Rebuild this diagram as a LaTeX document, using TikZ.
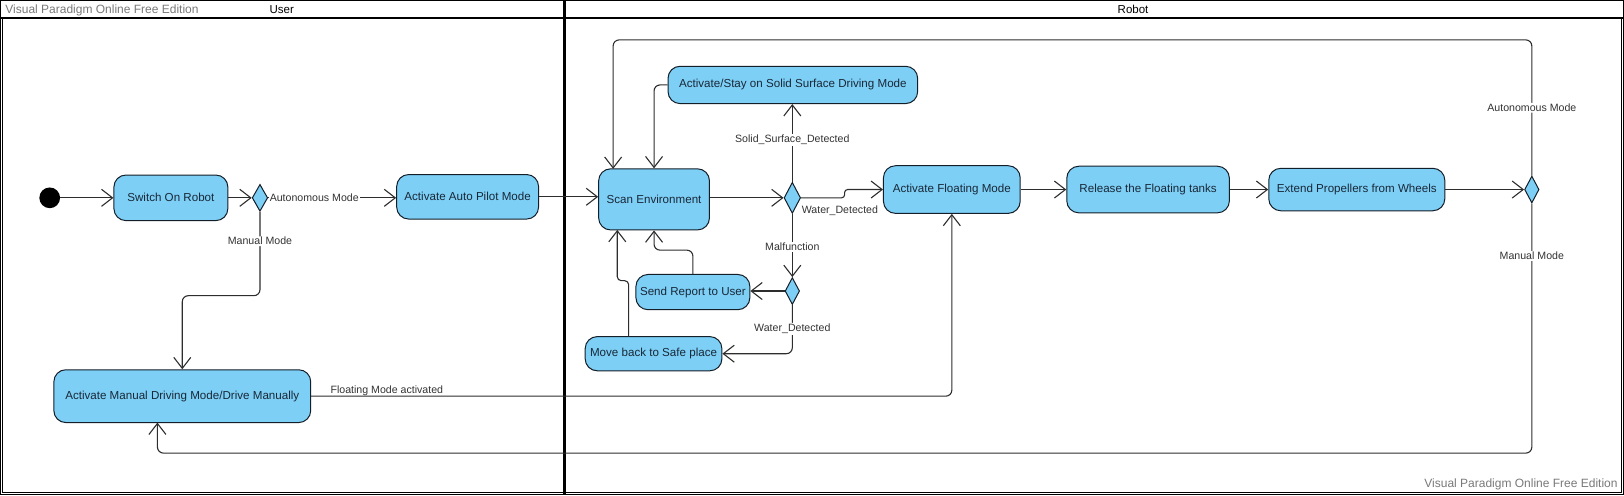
\documentclass[tikz,border=0pt]{standalone}
\usepackage{fontspec}
\setmainfont{Liberation Sans}
\usetikzlibrary{arrows.meta,shapes.geometric}
\definecolor{boxfill}{RGB}{125,207,246}
\definecolor{boxline}{RGB}{20,30,40}
\definecolor{boxtext}{RGB}{25,40,55}
\definecolor{linec}{RGB}{45,45,45}
\definecolor{wm}{RGB}{120,120,120}
\tikzset{
  sz/.style 2 args={minimum width=#1*1.0357pt, minimum height=#2*1.0357pt},
  act/.style={draw=boxline, line width=1pt, fill=boxfill, rounded corners=12pt, inner sep=1pt, text=boxtext, font=\fontsize{11.6}{13}\selectfont},
  dec/.style={diamond, draw=boxline, line width=1pt, fill=boxfill, inner sep=0pt},
  arr/.style={draw=linec, line width=1.1pt, -{Straight Barb[length=11pt,width=17pt,line width=1.1pt]}},
  lbl/.style={fill=white, inner sep=1pt, text=black!80, font=\fontsize{10.6}{12}\selectfont},
  lblt/.style={inner sep=1pt, text=black!80, font=\fontsize{10.6}{12}\selectfont},
  wmark/.style={inner sep=0pt, text=wm, font=\fontsize{12}{14}\selectfont},
  lane/.style={inner sep=0pt, text=black, font=\fontsize{11.5}{13}\selectfont},
}
\begin{document}
\begin{tikzpicture}[x=1.0357pt,y=-1.0357pt]
\useasboundingbox (0,0) rectangle (1568,478);
% frame
\draw[line width=0.9pt, black] (0.5,0.5) rectangle (1567.5,477.5);
\draw[line width=0.9pt, black] (2.5,17.5) -- (2.5,475.5) -- (1565.5,475.5) -- (1565.5,17.5);
\draw[line width=1.6pt, black] (0.5,17.5) -- (1567.5,17.5);
\draw[line width=2.2pt, black] (545,0.5) -- (545,477.5);
\node[lane] (lu) at (272,9.5) {User};
\node[lane] (lr) at (1094,9.5) {Robot};
\node[wmark, anchor=west] (wm1) at (5,10) {Visual Paradigm Online Free Edition};
\node[wmark, anchor=east] (wm2) at (1562,468) {Visual Paradigm Online Free Edition};

% nodes
\node[circle, fill=black, inner sep=0pt, minimum size=20*1.0357pt] (start) at (48,191) {};
\node[act, sz={110}{44}] (sw) at (165,191) {Switch On Robot};
\node[dec, sz={15}{26}] (d1) at (251,191) {};
\node[act, sz={137}{43}] (ap) at (451.5,190) {Activate Auto Pilot Mode};
\node[act, sz={248}{51}] (man) at (176,382.5) {Activate Manual Driving Mode/Drive Manually};
\node[act, sz={107}{59}] (scan) at (631.5,192.5) {Scan Environment};
\node[act, sz={241}{36}] (solid) at (765.5,82) {Activate/Stay on Solid Surface Driving Mode};
\node[dec, sz={16}{30}] (d2) at (765,191) {};
\node[act, sz={132}{46}] (float) at (919,183) {Activate Floating Mode};
\node[act, sz={157}{45}] (rel) at (1108.5,183) {Release the Floating tanks};
\node[act, sz={170}{41}] (ext) at (1310,183) {Extend Propellers from Wheels};
\node[dec, sz={14}{26}] (d4) at (1479,183) {};
\node[dec, sz={14}{26}] (d3) at (765,281) {};
\node[act, sz={110}{34}] (send) at (669,282) {Send Report to User};
\node[act, sz={132}{33}] (move) at (631,341.5) {Move back to Safe place};

\coordinate (scanin) at (592,163);
\coordinate (scanb2) at (596,222);
\coordinate (mvout) at (607,325);
\coordinate (manin) at (152,408);

% connectors
\draw[arr] (start.east) -- (start.east -| sw.west);
\draw[arr] (sw.east |- d1.west) -- (d1.west);
\draw[arr] (d1.east) -- node[lbl, anchor=west, pos=0] (l1) {Autonomous Mode} (d1.east -| ap.west);
\draw[arr, rounded corners=6pt] (d1.south) -- node[lbl, pos=0.35] (l2) {Manual Mode} ++(0,81) -| (man.north);
\draw[arr] (ap.east) -- (ap.east -| scan.west);
\draw[arr, rounded corners=6pt] (d4.north) -- node[lbl, pos=0.5] (l3) {Autonomous Mode} ++(0,-131) -| (scanin);
\draw[arr, rounded corners=6pt] (solid.west) -| (scan.north);
\draw[arr] (d2.west -| scan.east) -- (d2.west);
\draw[arr] (d2.north) -- node[lbl, pos=0.54] (l4) {Solid\_Surface\_Detected} (d2.north |- solid.south);
\draw[arr, rounded corners=3pt] (d2.east) -- ++(42,0) |- (float.west);
\node[lblt, anchor=west] (l5) at (773,203) {Water\_Detected};
\draw[arr] (d2.south) -- node[lbl, pos=0.52] (l6) {Malfunction} (d3.north);
\draw[arr] (d3.west) -- (d3.west -| send.east);
\draw[arr, rounded corners=6pt] (d3.south) -- node[lbl, pos=0.49] (l7) {Water\_Detected} (d3.south |- move.east) -- (move.east);
\draw[arr, rounded corners=6pt] (send.north) -- ++(0,-23) -| (scan.south);
\draw[arr, rounded corners=4pt] (mvout) -- ++(0,-54) -| (scanb2);
\draw[arr] (float.east) -- (float.east -| rel.west);
\draw[arr] (rel.east) -- (rel.east -| ext.west);
\draw[arr] (ext.east) -- (d4.west);
\draw[arr, rounded corners=6pt] (man.east) -| (float.south);
\node[lblt, anchor=base west] (l8) at (318,380) {Floating Mode activated};
\draw[arr, rounded corners=6pt] (d4.south) -- node[lbl, pos=0.21] (l9) {Manual Mode} ++(0,241) -| (manin);
\end{tikzpicture}
\end{document}
